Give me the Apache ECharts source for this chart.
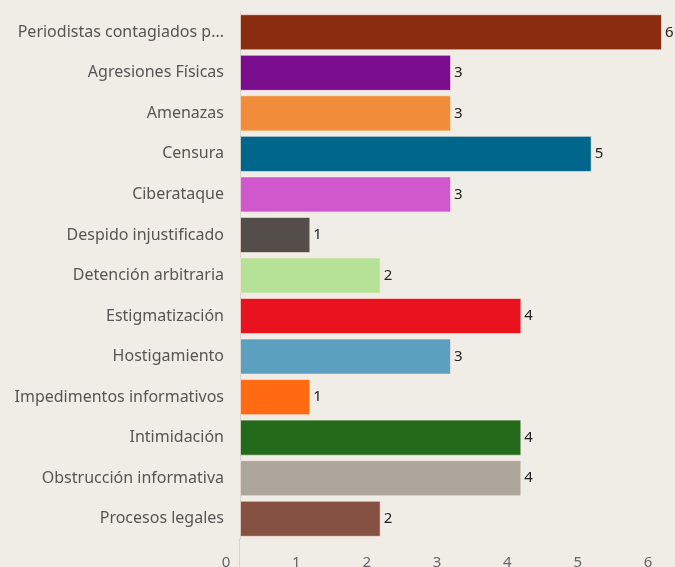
<!DOCTYPE html>
<html><head><meta charset="utf-8">
<script src="https://cdn.jsdelivr.net/npm/echarts@6/dist/echarts.min.js"></script>
<style>html,body{margin:0;padding:0;background:#f0ede7;}#c{width:675px;height:567px;}</style>
</head><body><div id="c"></div>
<script>
const categories = ["Periodistas contagiados p...","Agresiones Físicas","Amenazas","Censura","Ciberataque","Despido injustificado","Detención arbitraria","Estigmatización","Hostigamiento","Impedimentos informativos","Intimidación","Obstrucción informativa","Procesos legales"];
const values = [6,3,3,5,3,1,2,4,3,1,4,4,2];
const colors = ["#8a2c10","#7a0c8e","#f08c3a","#00668c","#d057cc","#534e4a","#b6e297","#e8131f","#5ba0be","#ff6a12","#236b1b","#ada69d","#855142"];
const xTicks = [0,1,2,3,4,5,6];

const chart = echarts.init(document.getElementById('c'));
const font = 'Noto Sans';
chart.setOption({
  backgroundColor: '#f0ede7',
  animation: false,
  grid: {left: 240, right: 13, top: 12, bottom: 28, containLabel: false, outerBoundsMode: 'none'},
  xAxis: {
    type: 'value', min: xTicks[0], max: xTicks[xTicks.length-1], interval: 1,
    axisLine: {show: false}, axisTick: {show: false}, splitLine: {show: false},
    axisLabel: {color: '#666', fontFamily: font, fontSize: 15, margin: 16, padding: [0, 28, 0, 0]}
  },
  yAxis: {
    type: 'category', inverse: true, data: categories,
    axisLine: {show: true, lineStyle: {color: '#d6d2cc', width: 1}},
    axisTick: {show: false},
    axisLabel: {color: '#555', fontFamily: font, fontSize: 16, margin: 16}
  },
  series: [{
    type: 'bar', barCategoryGap: '11%',
    data: values.map((v, i) => ({value: v, itemStyle: {color: colors[i]}})),
    itemStyle: {borderColor: 'rgba(255,235,225,0.6)', borderWidth: 1},
    label: {show: true, position: 'right', distance: 3, color: '#222', fontFamily: font, fontSize: 15}
  }]
});
chart.setOption({graphic: [{type: 'line', shape: {x1: 239.5, y1: 539, x2: 239.5, y2: 567}, style: {stroke: '#d6d2cc', lineWidth: 1}, silent: true}]});
</script></body></html>
